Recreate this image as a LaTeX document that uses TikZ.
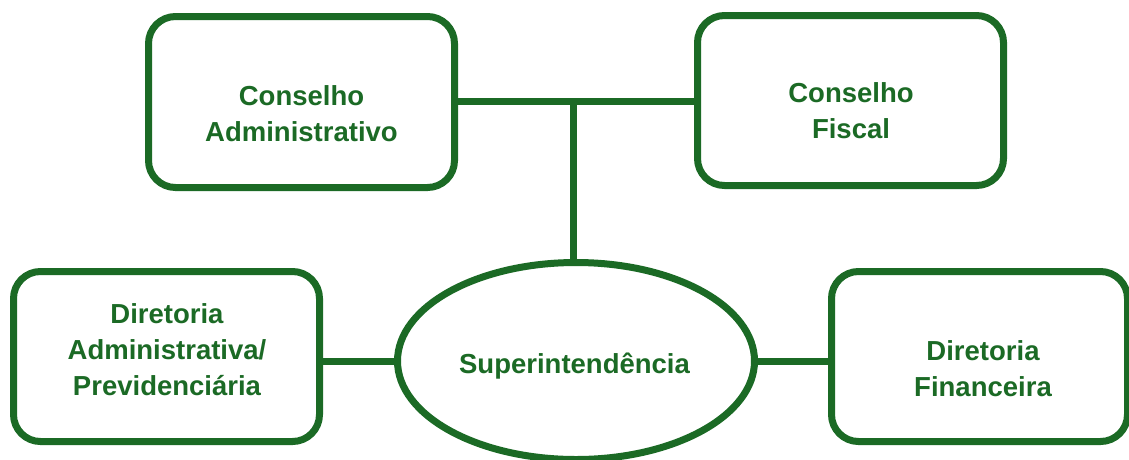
\documentclass[tikz,border=0pt]{standalone}
\usepackage{fontspec}
\setmainfont{Liberation Sans}
\usetikzlibrary{shapes.geometric}
\definecolor{orggreen}{RGB}{27,106,37}
\tikzset{
  box/.style={draw=orggreen, line width=7pt, rounded corners=27pt, inner sep=0pt, fill=white},
  oval/.style={draw=orggreen, line width=7pt, ellipse, inner sep=0pt, fill=white},
  lbl/.style={text=orggreen, font=\fontsize{27.5}{36}\selectfont\bfseries, align=center, inner sep=0pt},
  link/.style={draw=orggreen, line width=7pt}
}
\begin{document}
\begin{tikzpicture}[x=1pt,y=-1pt]
\useasboundingbox (0,0) rectangle (1129,459);
% boxes
\node[box, minimum width=306pt, minimum height=171pt] (CA) at (301.5,102) {};
\node[box, minimum width=306pt, minimum height=170pt] (CF) at (850.5,100.5) {};
\node[box, minimum width=306pt, minimum height=170pt] (DA) at (166.5,356.5) {};
\node[box, minimum width=296pt, minimum height=170pt] (DF) at (979.5,356.5) {};
\node[oval, minimum width=357pt, minimum height=197pt] (S) at (576,361) {};
% labels
\node[lbl] (tCA) at (301.5,114) {Conselho\\Administrativo};
\node[lbl] (tCF) at (851,110.5) {Conselho\\Fiscal};
\node[lbl] (tDA) at (167,350) {Diretoria\\Administrativa/\\Previdenciária};
\node[lbl] (tDF) at (983,368.5) {Diretoria\\Financeira};
\node[lbl, anchor=base] (tS) at (574.5,373) {Superintendência};
% connectors
\coordinate (j) at (573,101);
\draw[link] (CA.east |- j) -- (CF.west |- j);
\draw[link] (j) -- (j |- S.north);
\draw[link] (DA.east |- S.west) -- (S.west);
\draw[link] (S.east) -- (S.east -| DF.west);
\end{tikzpicture}
\end{document}
